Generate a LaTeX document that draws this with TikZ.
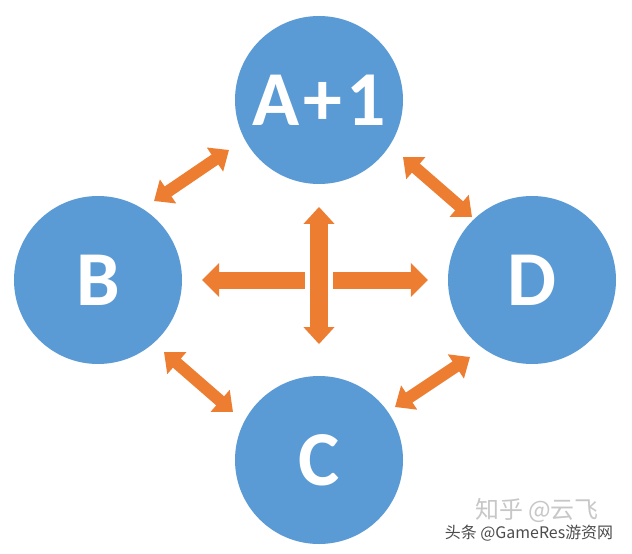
\documentclass[tikz,border=0pt]{standalone}
\usepackage{fontspec}
\setmainfont{Carlito}
\newfontfamily\cjk{Noto Sans CJK SC}
\usetikzlibrary{arrows.meta,calc}
\definecolor{cblue}{HTML}{5B9BD5}
\definecolor{corange}{HTML}{ED7D31}
\begin{document}
\begin{tikzpicture}[x=1bp,y=-1bp,
  circ/.style={circle,fill=cblue,minimum size=168bp,inner sep=0pt,text=white,
    font=\fontsize{78}{78}\selectfont\bfseries},
  dbl/.style={draw=corange,line width=12bp,
    {Triangle[width=28bp,length=17bp]}-{Triangle[width=28bp,length=17bp]}},
  hbl/.style={draw=corange,line width=17bp,
    {Triangle[width=33bp,length=17bp]}-{Triangle[width=33bp,length=17bp]}},
  vbl/.style={draw=corange,line width=18bp,
    {Triangle[width=30bp,length=17bp]}-{Triangle[width=30bp,length=17bp]}},
  wm/.style={font=\cjk\fontsize{24}{24}\selectfont,text=black!22},
  wm2/.style={font=\cjk\fontsize{16}{16}\selectfont,text=black!70}
]
\fill[white] (0,0) rectangle (632,554);
\useasboundingbox (0,0) rectangle (632,554);
\node[circ] (A) at (319,100) {A\kern4bp+\kern4bp1};
\node[circ] (B) at (98,280) {B};
\node[circ] (D) at (532,280) {D};
\node[circ] (C) at (319,460) {C};
% diagonal double arrows
\draw[dbl] ($(B)+(56,-79)$) -- ($(A)+(-90,50)$);
\draw[dbl] ($(A)+(84,57)$) -- ($(D)+(-60,-63)$);
\draw[dbl] ($(B)+(66,72)$) -- ($(C)+(-86,-48)$);
\draw[dbl] ($(C)+(76,-53)$) -- ($(D)+(-62,77)$);
% central cross
\draw[hbl] ($(B)!0.24!(D)$) -- ($(D)!0.24!(B)$);
\fill[white] ($(A)!0.5!(C)+(-14,-12)$) rectangle ($(A)!0.5!(C)+(14,12)$);
\draw[vbl] ($(A)!0.297!(C)$) -- ($(C)!0.322!(A)$);
% watermarks
\node[wm] (w1) at (537,511) {知乎 @云飞};
\node[wm2] (w2) at (529,533) {头条 @GameRes游资网};
\end{tikzpicture}
\end{document}
